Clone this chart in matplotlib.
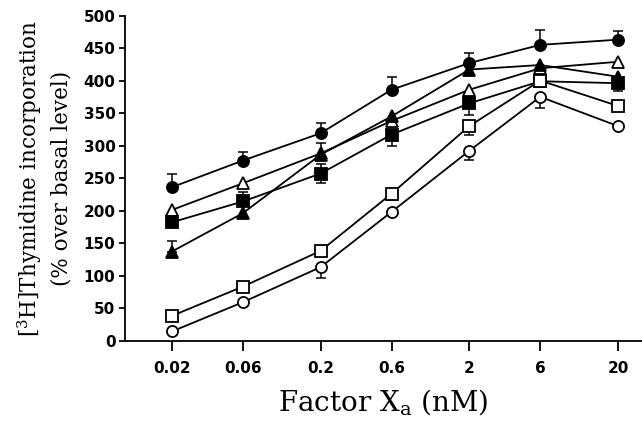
import numpy as np
import matplotlib.pyplot as plt

# Factor Xa concentrations (nM)
conc = [0.02, 0.06, 0.2, 0.6, 2, 6, 20]
conc_labels = ['0.02', '0.06', '0.2', '0.6', '2', '6', '20']

# [3H]thymidine incorporation, % over basal level
filled_circle = [236, 277, 319, 386, 427, 455, 463]
open_triangle = [201, 242, 288, 338, 386, 419, 429]
filled_square = [182, 214, 257, 317, 365, 399, 396]
filled_triangle = [137, 196, 286, 345, 417, 424, 406]
open_square = [38, 83, 138, 226, 330, 400, 361]
open_circle = [14, 59, 113, 198, 292, 375, 330]

# SEM bars (lower, upper); zero means no bar shown
fc_err = ([0, 0, 0, 0, 0, 0, 0], [20, 13, 15, 20, 16, 23, 14])
fs_err = ([0, 0, 15, 18, 18, 0, 12], [0, 15, 14, 0, 0, 0, 0])
ft_err = ([0, 0, 0, 0, 0, 0, 0], [16, 0, 18, 0, 0, 0, 0])
os_err = ([0, 0, 0, 10, 14, 0, 0], [0, 0, 0, 0, 0, 0, 0])
oc_err = ([0, 0, 16, 0, 14, 17, 0], [0, 0, 0, 0, 0, 0, 0])

fig = plt.figure(figsize=(6.42, 4.22), dpi=100)
ax = fig.add_axes([0.195, 0.193, 0.805, 0.77])

series = [
    (filled_circle, 'o', 'black', fc_err),
    (open_triangle, '^', 'white', None),
    (filled_square, 's', 'black', fs_err),
    (filled_triangle, '^', 'black', ft_err),
    (open_square, 's', 'white', os_err),
    (open_circle, 'o', 'white', oc_err),
]

for vals, mk, face, err in series:
    if err is not None:
        lo, hi = np.array(err[0]), np.array(err[1])
        keep = (lo > 0) | (hi > 0)
        x = np.array(conc)[keep]
        y = np.array(vals)[keep]
        ax.errorbar(x, y, yerr=[lo[keep], hi[keep]], fmt='none', ecolor='black',
                    elinewidth=1.1, capsize=3.5, capthick=1.1, zorder=2)
    ax.plot(conc, vals, color='black', lw=1.3, marker=mk, markersize=8,
            markerfacecolor=face, markeredgecolor='black', markeredgewidth=1.3,
            zorder=3)

ax.set_xscale('log')
ax.set_xlim(0.0097, 29)
ax.set_ylim(0, 500)
ax.set_xticks(conc)
ax.set_xticklabels(conc_labels)
ax.minorticks_off()
ax.set_yticks(np.arange(0, 501, 50))

for s in ['top', 'right']:
    ax.spines[s].set_visible(False)
for s in ['left', 'bottom']:
    ax.spines[s].set_linewidth(1.3)

ax.tick_params(axis='x', direction='out', length=7, width=1.3, pad=8)
ax.tick_params(axis='y', direction='out', length=4, width=1.3, pad=3)
for lab in ax.get_xticklabels() + ax.get_yticklabels():
    lab.set_fontfamily('DejaVu Sans')
    lab.set_fontweight('bold')
    lab.set_fontsize(11)

ax.set_xlabel(r'Factor X$_\mathregular{a}$ (nM)', family='DejaVu Serif',
              fontsize=20, labelpad=8)
ax.set_ylabel('[$^\\mathregular{3}$H]Thymidine incorporation\n(% over basal level)',
              family='DejaVu Serif', fontsize=15.5, labelpad=8, linespacing=1.35)

fig.savefig('out.png', dpi=100)
